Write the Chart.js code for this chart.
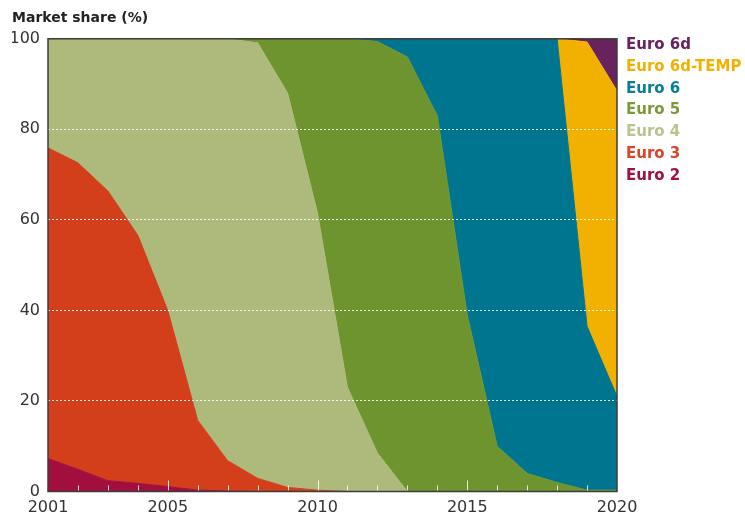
<!DOCTYPE html>
<html>
<head>
<meta charset="utf-8">
<script src="https://cdn.jsdelivr.net/npm/chart.js@4.4.1/dist/chart.umd.min.js"></script>
<style>
  body { margin: 0; background: #fff; }
  #wrap { position: relative; width: 745px; height: 516px; }
  #legend {
    position: absolute; left: 626px; top: 34px;
    font: bold 15px "DejaVu Sans", sans-serif; line-height: 21.8px;
  }
</style>
</head>
<body>
<div id="wrap">
  <canvas id="shareChart"></canvas>
  <div id="legend"></div>
</div>
<script>
// years on the x axis, and which of them get a label
const years = ['2001', '2002', '2003', '2004', '2005', '2006', '2007', '2008', '2009', '2010',
               '2011', '2012', '2013', '2014', '2015', '2016', '2017', '2018', '2019', '2020'];
const xTickLabels = ['2001', '2005', '2010', '2015', '2020'];

// market share per standard, %
const euro2 = [7.3, 4.9, 2.4, 1.8, 1.1, 0.3, 0.1, 0, 0, 0, 0, 0, 0, 0, 0, 0, 0, 0, 0, 0];
const euro3 = [68.6, 67.7, 64.0, 54.8, 38.9, 15.4, 6.7, 2.9, 0.9, 0.3, 0, 0, 0, 0, 0, 0, 0, 0, 0, 0];
const euro4 = [24.1, 27.4, 33.6, 43.4, 60.0, 84.3, 93.2, 96.2, 87.1, 61.2, 23.0, 8.5, 0, 0, 0, 0, 0, 0, 0, 0];
const euro5 = [0, 0, 0, 0, 0, 0, 0, 0.9, 12.0, 38.5, 77.0, 90.9, 96.0, 83.0, 39.0, 10.0, 4.0, 2.0, 0.3, 0.3];
const euro6 = [0, 0, 0, 0, 0, 0, 0, 0, 0, 0, 0, 0.6, 4.0, 17.0, 61.0, 90.0, 96.0, 98.0, 36.2, 20.7];
const euro6dTemp = [0, 0, 0, 0, 0, 0, 0, 0, 0, 0, 0, 0, 0, 0, 0, 0, 0, 0, 62.8, 67.5];
const euro6d = [0, 0, 0, 0, 0, 0, 0, 0, 0, 0, 0, 0, 0, 0, 0, 0, 0, 0, 0.7, 11.5];

const seriesNames = ['Euro 2', 'Euro 3', 'Euro 4', 'Euro 5', 'Euro 6', 'Euro 6d-TEMP', 'Euro 6d'];
const seriesData = [euro2, euro3, euro4, euro5, euro6, euro6dTemp, euro6d];
const seriesColors = ['#A20E3E', '#D33F1B', '#ADBA7C', '#6E942F', '#00758F', '#F2B100', '#68235E'];
const legendColors = ['#A20E3E', '#D8452A', '#B8C48E', '#7A9A3A', '#0A7D96', '#F2B100', '#68235E'];

const fontFamily = '"DejaVu Sans", sans-serif';

const datasets = seriesNames.map((name, i) => ({
    label: name,
    data: seriesData[i],
    backgroundColor: seriesColors[i],
    borderColor: seriesColors[i],
    borderWidth: 1,
    pointRadius: 0,
    tension: 0,
    fill: i === 0 ? 'origin' : '-1'
}));

// white tick marks inside the bottom of the plot, plus the dark frame
const framePlugin = {
    id: 'frame',
    afterDraw(chart) {
        const { ctx, chartArea: a, scales: { x } } = chart;
        ctx.save();
        ctx.strokeStyle = 'rgba(255,255,255,0.85)';
        ctx.lineWidth = 1;
        years.forEach((yr, i) => {
            if (i === 0 || i === years.length - 1) return;
            const px = Math.round(x.getPixelForValue(i)) + 0.5;
            const len = xTickLabels.includes(yr) ? 10 : 5;
            ctx.beginPath();
            ctx.moveTo(px, a.bottom - 1);
            ctx.lineTo(px, a.bottom - 1 - len);
            ctx.stroke();
        });
        ctx.strokeStyle = '#3c3c3c';
        ctx.lineWidth = 1.5;
        ctx.strokeRect(a.left, a.top, a.right - a.left, a.bottom - a.top);
        ctx.restore();
    }
};

const config = {
    type: 'line',
    data: { labels: years, datasets: datasets },
    options: {
        responsive: true,
        maintainAspectRatio: false,
        animation: false,
        layout: { padding: { top: 6, left: 12, right: 128, bottom: 0 } },
        plugins: {
            legend: { display: false },
            tooltip: { enabled: false },
            title: {
                display: true,
                text: 'Market share (%)',
                align: 'start',
                color: '#222',
                font: { family: fontFamily, size: 14, weight: 'bold' },
                padding: { top: 4, bottom: 12 }
            }
        },
        scales: {
            x: {
                offset: false,
                grid: { display: false, drawTicks: false },
                border: { display: false },
                afterFit: (scale) => { scale.height = 24.5; },
                ticks: {
                    autoSkip: false,
                    maxRotation: 0,
                    padding: 7,
                    color: '#333',
                    font: { family: fontFamily, size: 16 },
                    callback: function(value) {
                        const lab = this.getLabelForValue(value);
                        return xTickLabels.includes(lab) ? lab : '';
                    }
                }
            },
            y: {
                stacked: true,
                min: 0,
                max: 100,
                border: { display: false, dash: [2, 2] },
                afterFit: (scale) => { scale.width = 36; },
                grid: {
                    z: 1,
                    drawTicks: false,
                    lineWidth: 1,
                    color: (c) => (c.tick.value > 0 && c.tick.value < 100) ? 'rgba(255,255,255,0.9)' : 'rgba(0,0,0,0)'
                },
                ticks: {
                    stepSize: 20,
                    padding: 8,
                    color: '#333',
                    font: { family: fontFamily, size: 16 }
                }
            }
        }
    },
    plugins: [framePlugin]
};

// legend text, newest standard on top
const legendEl = document.getElementById('legend');
for (let i = seriesNames.length - 1; i >= 0; i--) {
    const row = document.createElement('div');
    row.textContent = seriesNames[i];
    row.style.color = legendColors[i];
    legendEl.appendChild(row);
}

window.onload = function() {
    const ctx = document.getElementById('shareChart').getContext('2d');
    new Chart(ctx, config);
};
</script>
</body>
</html>
